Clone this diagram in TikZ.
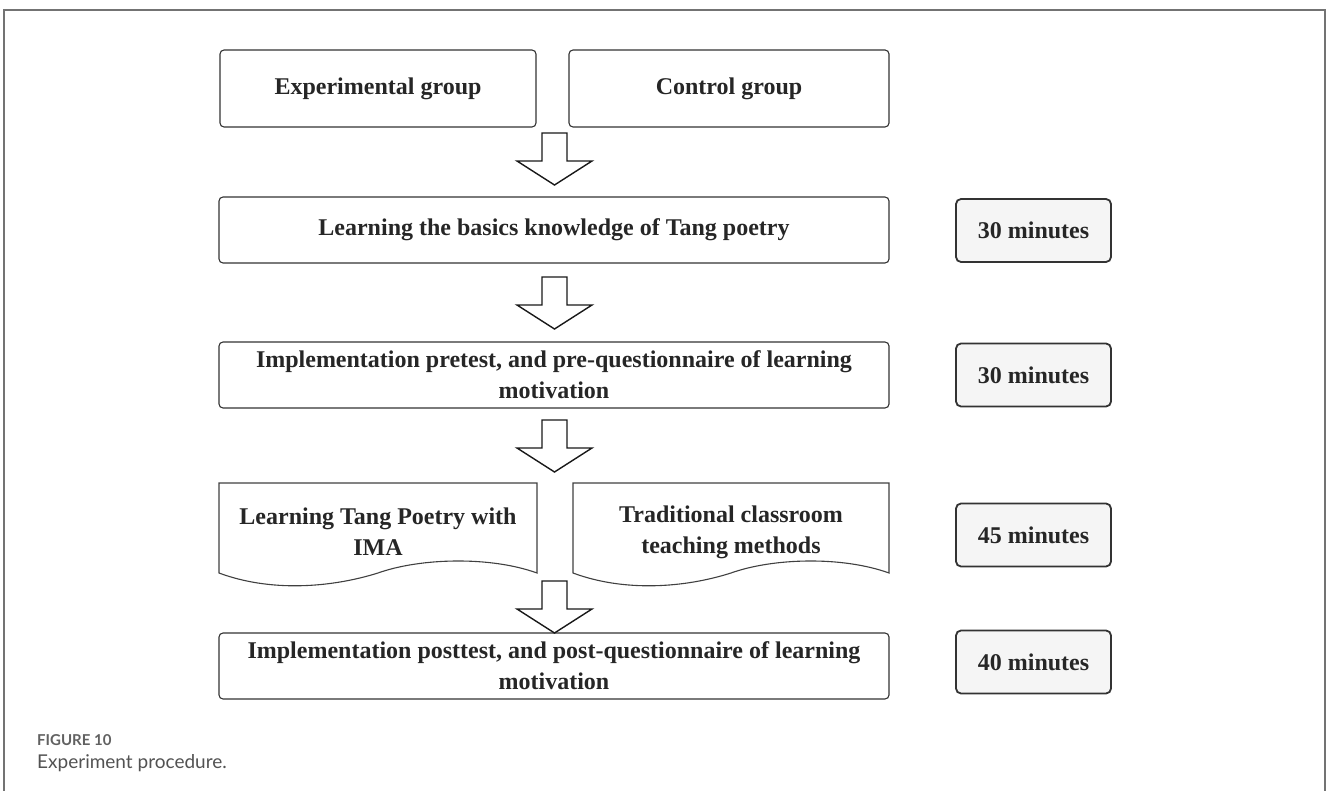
\documentclass[tikz,border=0pt]{standalone}
\usepackage{fontspec}
\setmainfont{Liberation Serif}
\newfontfamily\capfont{Lato}
\begin{document}
\begin{tikzpicture}[x=1pt,y=-1pt,
  box/.style={draw=black!80,line width=1.1pt,rounded corners=4pt,inner sep=0pt,
    font=\fontsize{24}{31}\selectfont\bfseries,text=black!85,align=center},
  minbox/.style={draw=black!80,line width=1.8pt,rounded corners=5pt,fill=black!4,
    minimum width=155pt,minimum height=63pt,inner sep=0pt,
    font=\fontsize{24}{28}\selectfont\bfseries,text=black!85},
  wave/.style={draw=black!75,line width=1.1pt,fill=white},
  wavetext/.style={font=\fontsize{24}{31}\selectfont\bfseries,text=black!85,align=center,inner sep=0pt},
  blockarr/.style={draw=black!90,line width=1.4pt,fill=white,line join=miter},
  pics/downarr/.style={code={
    \draw[blockarr] (-12.5,0) -- (12.5,0) -- (12.5,28) -- (37.5,28) -- (0,52) -- (-37.5,28) -- (-12.5,28) -- cycle;}}
]
\useasboundingbox (0,0) rectangle (1328,791);
% frame
\draw[black!55,line width=1.4pt] (4,791) -- (4,10) -- (1325,10) -- (1325,791);

% top boxes
\node[box,minimum width=316pt,minimum height=77pt] (exp) at (378,88.5) {Experimental group};
\node[box,minimum width=320pt,minimum height=77pt] (ctrl) at (729,88.5) {Control group};

% main boxes
\node[box,minimum width=670pt,minimum height=66pt] (learn) at (554,230) {Learning the basics knowledge of Tang poetry};
\node[box,minimum width=670pt,minimum height=66pt] (pre) at (554,375) {Implementation pretest, and pre-questionnaire of learning\\motivation};
\node[box,minimum width=670pt,minimum height=66pt] (post) at (554,666) {Implementation posttest, and post-questionnaire of learning\\motivation};

% wave boxes
\draw[wave] (219,573) -- (219,483) -- (537,483) -- (537,573)
  .. controls (490,556) and (420,558) .. (378,573)
  .. controls (330,588) and (270,592) .. (219,573) -- cycle;
\draw[wave] (573,573) -- (573,483) -- (889,483) -- (889,573)
  .. controls (842,556) and (773,558) .. (731,573)
  .. controls (684,588) and (624,592) .. (573,573) -- cycle;
\node[wavetext] (ima) at (378,532) {Learning Tang Poetry with\\IMA};
\node[wavetext] (trad) at (731,532) {Traditional classroom\\teaching methods};

% minutes boxes
\node[minbox] (m1) at (1033.5,230.5) {30 minutes};
\node[minbox] (m2) at (1033.5,375) {30 minutes};
\node[minbox] (m3) at (1033.5,535) {45 minutes};
\node[minbox] (m4) at (1033.5,662) {40 minutes};

% arrows
\coordinate (a1) at (554.5,133);
\coordinate (a2) at (554.5,277);
\coordinate (a3) at (554.5,420);
\coordinate (a4) at (554.5,581);
\pic at (a1) {downarr};
\pic at (a2) {downarr};
\pic at (a3) {downarr};
\pic at (a4) {downarr};

% caption
\node[anchor=west,inner sep=0pt,font=\capfont\bfseries\fontsize{15}{18}\selectfont,text=black!62] (figlab) at (37,740) {FIGURE 10};
\node[anchor=west,inner sep=0pt,font=\capfont\fontsize{19}{22}\selectfont,text=black!68] (figcap) at (37,763) {Experiment procedure.};
\end{tikzpicture}
\end{document}
